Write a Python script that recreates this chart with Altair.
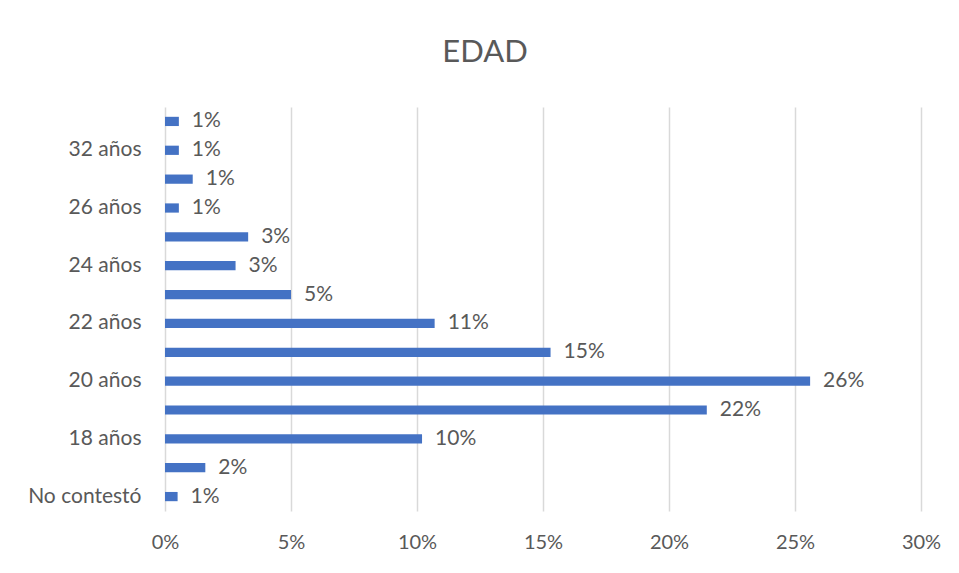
import altair as alt
import pandas as pd

categories = ["No contestó", "17 años", "18 años", "19 años", "20 años", "21 años",
              "22 años", "23 años", "24 años", "25 años", "26 años", "28 años",
              "32 años", "35 años"]
values = [0.5, 1.6, 10.2, 21.5, 25.6, 15.3, 10.7, 5.0, 2.8, 3.3, 0.55, 1.1, 0.55, 0.55]
labels = ["1%", "2%", "10%", "22%", "26%", "15%", "11%", "5%", "3%", "3%", "1%", "1%", "1%", "1%"]
shown_categories = ["No contestó", "18 años", "20 años", "22 años", "24 años", "26 años", "32 años"]

df = pd.DataFrame({"cat": categories, "val": values, "lab": labels})
order = list(reversed(categories))

FONT = "Lato"
GRAY = "#595959"

y_enc = alt.Y("cat:N", sort=order,
              scale=alt.Scale(paddingInner=0.68, paddingOuter=0.34),
              axis=alt.Axis(title=None, values=shown_categories, ticks=False, domain=False,
                            labelPadding=24, labelFontSize=21, labelColor=GRAY,
                            labelFont=FONT, grid=False))

bars = alt.Chart(df).mark_bar(color="#4472C4").encode(
    x=alt.X("val:Q", scale=alt.Scale(domain=[0, 30], nice=False),
            axis=alt.Axis(title=None, values=[0, 5, 10, 15, 20, 25, 30],
                          labelExpr="datum.value + '%'", ticks=False, domain=False,
                          grid=True, gridColor="#d9d9d9", gridWidth=1.5,
                          labelFlush=False, labelPadding=21, labelFontSize=20,
                          labelColor=GRAY, labelFont=FONT)),
    y=y_enc,
)

text = alt.Chart(df).mark_text(align="left", dx=13, fontSize=21, color=GRAY, font=FONT).encode(
    x="val:Q", y=alt.Y("cat:N", sort=order), text="lab:N"
)

chart = (bars + text).properties(
    width=756, height=404,
    background="white",
    title=alt.TitleParams("EDAD", fontSize=31, color=GRAY, font=FONT, fontWeight="normal",
                          anchor="middle", dx=-58, offset=38),
    autosize=alt.AutoSizeParams(type="none"),
    padding={"left": 157, "top": 99, "right": 30, "bottom": 58},
).configure_view(strokeWidth=0, stroke="transparent")

chart.save("out.html", embed_options={"renderer": "svg", "actions": False})
